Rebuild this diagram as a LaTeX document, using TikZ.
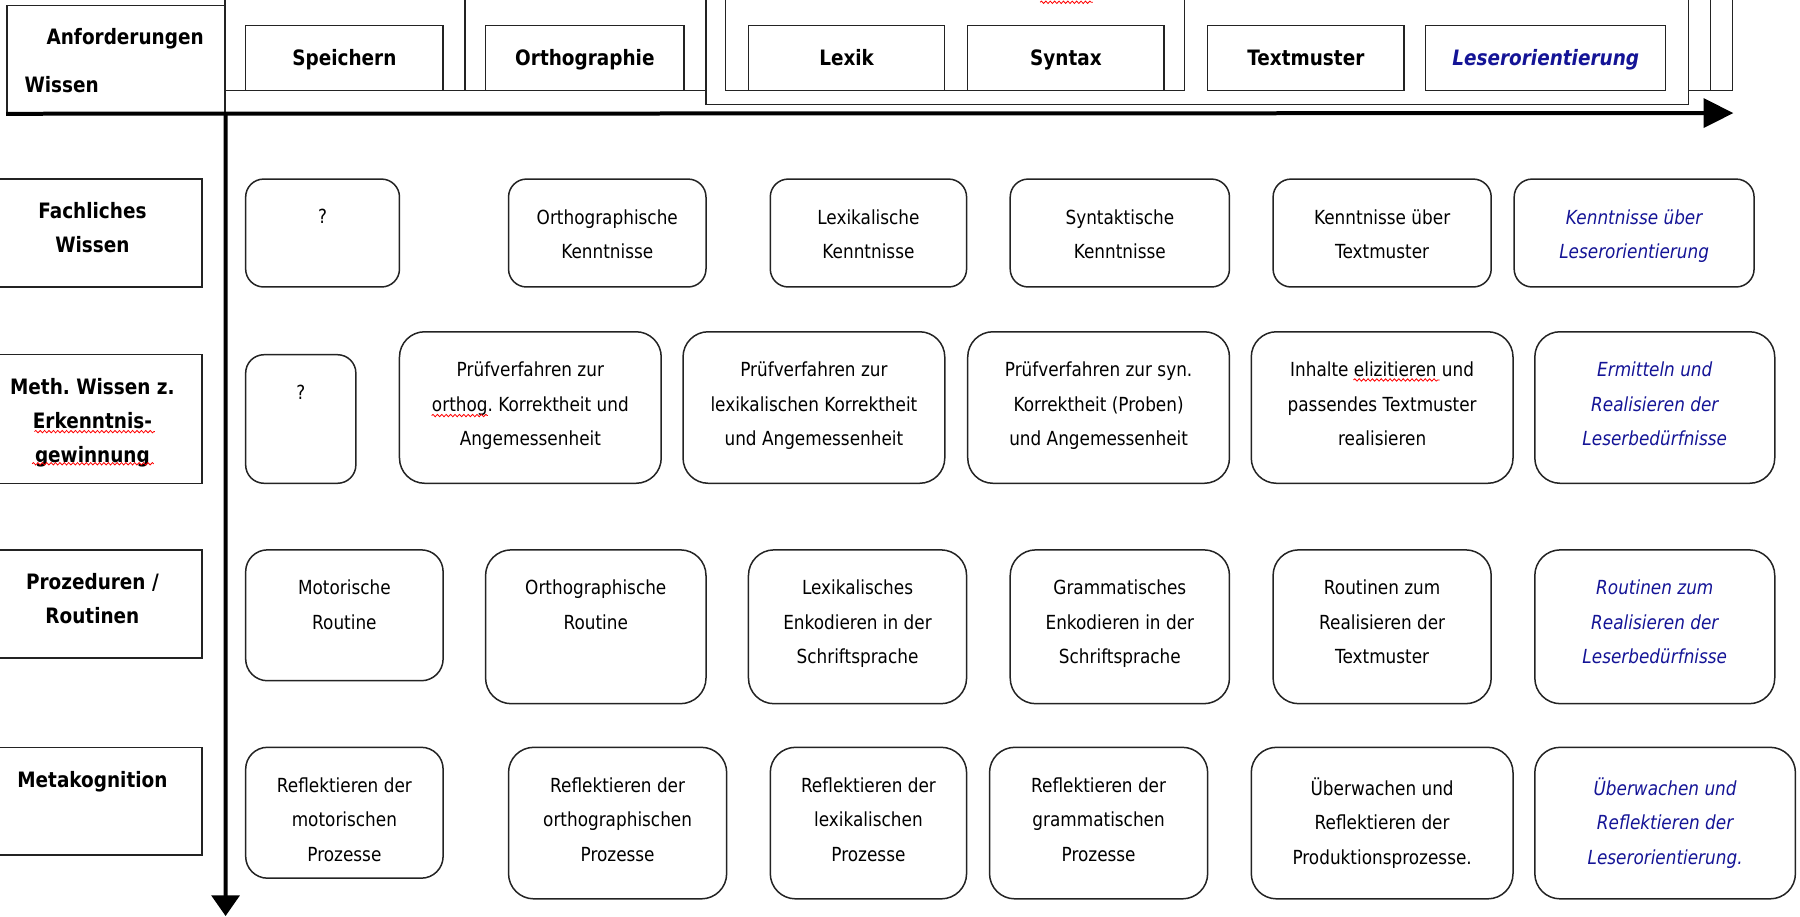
\documentclass[tikz,border=0pt]{standalone}
\usepackage{fontspec}
\setmainfont{DejaVu Sans}[FakeStretch=0.87]
\usetikzlibrary{arrows.meta,decorations.pathmorphing}
\frenchspacing
\definecolor{myblue}{RGB}{20,20,150}
\definecolor{edgecol}{RGB}{35,35,35}
\newcommand\nf{\fontsize{9.7}{17.2}\selectfont}
\newcommand\hdfont{\fontsize{10.6}{17.2}\selectfont\bfseries}
\tikzset{
  topframe/.style={draw=edgecol, line width=0.7pt},
  colbox/.style={draw=edgecol, line width=0.7pt, inner sep=0pt},
  cbox/.style={draw=edgecol, line width=0.75pt, inner sep=0pt},
  rbox/.style={draw=edgecol, line width=0.75pt, inner sep=0pt},
  ctxt/.style={align=center, inner sep=0pt, anchor=north, font=\nf, execute at begin node=\strut},
  htxt/.style={align=center, inner sep=0pt, anchor=north, font=\hdfont, execute at begin node=\strut},
  coltxt/.style={anchor=base, inner sep=0pt, font=\hdfont},
  btxt/.style={text=myblue, font=\nf\itshape},
  bhtxt/.style={text=myblue, font=\hdfont\itshape},
  single/.style={yshift=5pt},
  hsingle/.style={yshift=3.4pt},
  axisline/.style={line width=2pt},
  squig/.style={draw=red, line width=0.4pt, decorate, decoration={snake, segment length=2.2pt, amplitude=0.6pt}}
}
% rounded content box: name, x1, y1, x2, y2, text style, text
\newcommand\mybox[7]{%
  \pgfmathsetmacro\bw{#4-#2}%
  \pgfmathsetmacro\bh{#5-#3}%
  \pgfmathsetmacro\br{min(\bw,\bh)/6}%
  \node[cbox, minimum width=\bw*0.574pt, minimum height=\bh*0.574pt, rounded corners=\br*0.574pt] (#1) at ({(#2+#4)/2},{(#3+#5)/2}) {};
  \node[ctxt,#6] (#1t) at ({(#2+#4)/2},{#3+26}) {#7};}
% column header box
\newcommand\colhead[7]{%
  \pgfmathsetmacro\bw{#4-#2}%
  \pgfmathsetmacro\bh{#5-#3}%
  \node[colbox, minimum width=\bw*0.574pt, minimum height=\bh*0.574pt] (#1) at ({(#2+#4)/2},{(#3+#5)/2}) {};
  \node[coltxt,#6] (#1t) at ({(#2+#4)/2},57) {#7};}
% row header box
\newcommand\rowhead[7]{%
  \pgfmathsetmacro\bw{#4-#2}%
  \pgfmathsetmacro\bh{#5-#3}%
  \node[rbox, minimum width=\bw*0.574pt, minimum height=\bh*0.574pt] (#1) at ({(#2+#4)/2},{(#3+#5)/2}) {};
  \node[htxt,#6] (#1t) at ({(#2+#4)/2},{#3+20}) {#7};}
\begin{document}
\begin{tikzpicture}[x=0.574pt,y=-0.574pt]
\useasboundingbox (0,0) rectangle (1568,798);
\clip (0,0) rectangle (1568,798);
% top frames
\draw[topframe] (196,-10) rectangle (405,79);
\draw[topframe] (405,-10) rectangle (615,79);
\draw[topframe] (1471,-10) rectangle (1490,79);
\draw[topframe] (1490,-10) rectangle (1509,79);
\draw[topframe] (615,-10) rectangle (1471,91);
\draw[topframe] (632,-10) rectangle (1032,79);
% Anforderungen / Wissen
\node[colbox, minimum width=190*0.574pt, minimum height=93.5*0.574pt] (anf) at (101,51.75) {};
\node[coltxt] (anft) at (109,38.5) {Anforderungen};
\node[coltxt, anchor=base west] (wis) at (21,80.5) {Wissen};
% column headers
\colhead{h1}{214}{22}{386}{79}{}{Speichern}
\colhead{h2}{423}{22}{596}{79}{}{Orthographie}
\colhead{h3}{652}{22}{823}{79}{}{Lexik}
\colhead{h4}{843}{22}{1014}{79}{}{Syntax}
\colhead{h5}{1052}{22}{1223}{79}{}{Textmuster}
\colhead{h6}{1242}{22}{1451}{79}{bhtxt}{Leserorientierung}
% axes
\coordinate (hx) at (1510,98.5);
\coordinate (vy) at (196.5,798);
\draw[axisline, -{Triangle[length=14.9pt,width=14.4pt]}] (anf.south west) -- (hx);
\draw[axisline, -{Triangle[length=10.3pt,width=13.8pt]}] (anf.south east) -- (vy);
% row headers
\rowhead{r1}{-15}{156}{176}{250}{}{Fachliches\\Wissen}
\rowhead{r2}{-15}{309}{176}{421}{}{Meth. Wissen z.\\Erkenntnis-\\gewinnung}
\rowhead{r3}{-15}{479}{176}{573}{}{Prozeduren /\\Routinen}
\rowhead{r4}{-15}{651}{176}{745}{hsingle}{Metakognition}
% row 1
\mybox{a1}{214}{156}{348}{250}{single}{?}
\mybox{a2}{443}{156}{615}{250}{}{Orthographische\\Kenntnisse}
\mybox{a3}{671}{156}{842}{250}{}{Lexikalische\\Kenntnisse}
\mybox{a4}{880}{156}{1071}{250}{}{Syntaktische\\Kenntnisse}
\mybox{a5}{1109}{156}{1299}{250}{}{Kenntnisse über\\Textmuster}
\mybox{a6}{1319}{156}{1528}{250}{btxt}{Kenntnisse über\\Leserorientierung}
% row 2
\mybox{b1}{214}{309}{310}{421}{single}{?}
\mybox{b2}{348}{289}{576}{421}{}{Prüfverfahren zur\\orthog. Korrektheit und\\Angemessenheit}
\mybox{b3}{595}{289}{823}{421}{}{Prüfverfahren zur\\lexikalischen Korrektheit\\und Angemessenheit}
\mybox{b4}{843}{289}{1071}{421}{}{Prüfverfahren zur syn.\\Korrektheit (Proben)\\und Angemessenheit}
\mybox{b5}{1090}{289}{1318}{421}{}{Inhalte elizitieren und\\passendes Textmuster\\realisieren}
\mybox{b6}{1337}{289}{1546}{421}{btxt}{Ermitteln und\\Realisieren der\\Leserbedürfnisse}
% row 3
\mybox{c1}{214}{479}{386}{593}{}{Motorische\\Routine}
\mybox{c2}{423}{479}{615}{613}{}{Orthographische\\Routine}
\mybox{c3}{652}{479}{842}{613}{}{Lexikalisches\\Enkodieren in der\\Schriftsprache}
\mybox{c4}{880}{479}{1071}{613}{}{Grammatisches\\Enkodieren in der\\Schriftsprache}
\mybox{c5}{1109}{479}{1299}{613}{}{Routinen zum\\Realisieren der\\Textmuster}
\mybox{c6}{1337}{479}{1546}{613}{btxt}{Routinen zum\\Realisieren der\\Leserbedürfnisse}
% row 4
\mybox{d1}{214}{651}{386}{765}{}{Reflektieren der\\motorischen\\Prozesse}
\mybox{d2}{443}{651}{633}{783}{}{Reflektieren der\\orthographischen\\Prozesse}
\mybox{d3}{671}{651}{842}{783}{}{Reflektieren der\\lexikalischen\\Prozesse}
\mybox{d4}{862}{651}{1052}{783}{}{Reflektieren der\\grammatischen\\Prozesse}
\mybox{d5}{1090}{651}{1318}{783}{}{Überwachen und\\Reflektieren der\\Produktionsprozesse.}
\mybox{d6}{1337}{651}{1564}{783}{btxt}{Überwachen und\\Reflektieren der\\Leserorientierung.}
% spell-check squiggles
\draw[squig] (376,362) -- (425,362);
\draw[squig] (30,376) -- (135,376);
\draw[squig] (28,404) -- (134,404);
\draw[squig] (1179,331) -- (1254,331);
\draw[squig] (906,2) -- (952,2);
\end{tikzpicture}
\end{document}
